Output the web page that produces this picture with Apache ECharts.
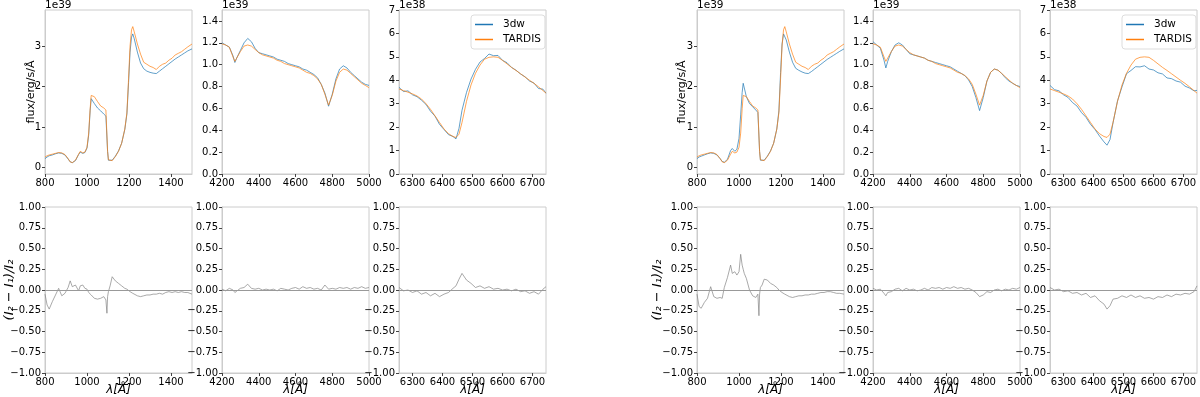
<!DOCTYPE html>
<html>
<head>
<meta charset="UTF-8">
<title>3dw vs TARDIS spectra</title>
<script type="text/javascript" src="https://cdn.jsdelivr.net/npm/echarts@6/dist/echarts.min.js"></script>
<style>
  html, body { margin: 0; padding: 0; background: #fff; }
</style>
</head>
<body>
	<div id="box" style="width: 1200px; height: 397px;"></div>

	<script type="text/javascript">
		// wavelength grids (Angstrom)
		var waveA = [800, 810, 820, 835, 850, 865, 880, 895, 910, 920,
			930, 945, 960, 968, 980, 990, 1000, 1008, 1015, 1020,
			1025, 1035, 1050, 1065, 1080, 1090, 1095, 1098, 1102, 1110,
			1120, 1135, 1150, 1165, 1180, 1190, 1198, 1205, 1212, 1218,
			1225, 1240, 1255, 1270, 1285, 1300, 1315, 1330, 1345, 1360,
			1375, 1390, 1405, 1420, 1435, 1450, 1465, 1480, 1500];
		var waveB = [4200, 4220, 4240, 4260, 4270, 4280, 4300, 4320, 4340, 4360,
			4380, 4400, 4420, 4440, 4460, 4480, 4500, 4520, 4540, 4560,
			4580, 4600, 4620, 4640, 4660, 4680, 4700, 4720, 4740, 4760,
			4780, 4800, 4820, 4840, 4860, 4880, 4900, 4920, 4940, 4960,
			4980, 5000];
		var waveC = [6255, 6270, 6285, 6300, 6315, 6330, 6345, 6360, 6375, 6390,
			6405, 6420, 6435, 6445, 6455, 6465, 6480, 6495, 6510, 6525,
			6540, 6555, 6570, 6585, 6600, 6615, 6630, 6645, 6660, 6675,
			6690, 6705, 6720, 6735, 6745];

		// TARDIS flux (same model in both groups); A,B in 1e39, C in 1e38
		var tardisA = [0.26, 0.29, 0.31, 0.33, 0.35, 0.37, 0.36, 0.32, 0.22, 0.14,
			0.12, 0.18, 0.33, 0.40, 0.36, 0.38, 0.50, 0.85, 1.45, 1.78,
			1.80, 1.75, 1.63, 1.52, 1.47, 1.42, 1.44, 0.40, 0.19, 0.16,
			0.17, 0.27, 0.40, 0.60, 0.95, 1.35, 2.20, 3.00, 3.40, 3.48,
			3.35, 3.05, 2.80, 2.60, 2.55, 2.50, 2.47, 2.42, 2.50, 2.55,
			2.58, 2.65, 2.70, 2.78, 2.82, 2.86, 2.92, 2.98, 3.05];
		var tardisB = [1.19, 1.18, 1.16, 1.07, 1.03, 1.06, 1.12, 1.17, 1.18, 1.17,
			1.14, 1.11, 1.09, 1.08, 1.07, 1.06, 1.04, 1.03, 1.01, 1.00,
			0.99, 0.98, 0.97, 0.95, 0.93, 0.92, 0.90, 0.87, 0.82, 0.73,
			0.63, 0.72, 0.85, 0.93, 0.96, 0.95, 0.92, 0.89, 0.86, 0.83,
			0.81, 0.79];
		var tardisC = [3.63, 3.56, 3.49, 3.42, 3.33, 3.20, 3.00, 2.76, 2.48, 2.20,
			1.92, 1.72, 1.60, 1.56, 1.70, 2.20, 3.10, 3.80, 4.30, 4.65,
			4.90, 4.98, 5.00, 4.98, 4.85, 4.70, 4.55, 4.42, 4.28, 4.14,
			4.00, 3.87, 3.72, 3.56, 3.45];

		// 3dw flux, left group (1) and right group (2)
		var blueA1 = [0.22, 0.26, 0.29, 0.31, 0.34, 0.36, 0.35, 0.31, 0.21, 0.14,
			0.12, 0.17, 0.32, 0.38, 0.35, 0.37, 0.48, 0.80, 1.40, 1.70,
			1.71, 1.58, 1.47, 1.40, 1.32, 1.27, 1.26, 0.40, 0.18, 0.16,
			0.18, 0.28, 0.41, 0.60, 0.94, 1.32, 2.10, 2.85, 3.22, 3.30,
			3.18, 2.85, 2.58, 2.44, 2.38, 2.35, 2.33, 2.32, 2.38, 2.44,
			2.50, 2.56, 2.62, 2.68, 2.73, 2.78, 2.83, 2.88, 2.93];
		var blueA2 = [0.22, 0.26, 0.28, 0.31, 0.34, 0.36, 0.35, 0.31, 0.22, 0.15,
			0.13, 0.20, 0.42, 0.47, 0.40, 0.45, 0.72, 1.30, 1.85, 2.08,
			2.10, 1.75, 1.58, 1.50, 1.42, 1.36, 1.40, 0.40, 0.18, 0.16,
			0.18, 0.28, 0.41, 0.60, 0.95, 1.40, 2.35, 3.05, 3.30, 3.32,
			3.15, 2.85, 2.60, 2.45, 2.40, 2.36, 2.33, 2.32, 2.37, 2.43,
			2.49, 2.55, 2.61, 2.67, 2.72, 2.77, 2.82, 2.87, 2.93];
		var blueB1 = [1.20, 1.18, 1.16, 1.08, 1.02, 1.06, 1.13, 1.20, 1.24, 1.21,
			1.15, 1.11, 1.10, 1.09, 1.08, 1.07, 1.05, 1.04, 1.03, 1.01,
			1.00, 0.99, 0.98, 0.96, 0.95, 0.93, 0.91, 0.88, 0.82, 0.74,
			0.62, 0.73, 0.87, 0.96, 0.99, 0.97, 0.93, 0.90, 0.87, 0.84,
			0.82, 0.81];
		var blueB2 = [1.21, 1.18, 1.15, 1.04, 0.97, 1.03, 1.12, 1.18, 1.20, 1.18,
			1.14, 1.10, 1.09, 1.08, 1.07, 1.06, 1.04, 1.03, 1.02, 1.01,
			1.00, 0.99, 0.98, 0.96, 0.94, 0.92, 0.90, 0.86, 0.80, 0.70,
			0.58, 0.70, 0.85, 0.93, 0.96, 0.95, 0.92, 0.88, 0.85, 0.83,
			0.81, 0.80];
		var blueC1 = [3.70, 3.52, 3.55, 3.38, 3.30, 3.15, 2.97, 2.68, 2.47, 2.12,
			1.90, 1.68, 1.60, 1.50, 1.95, 2.72, 3.48, 4.05, 4.47, 4.78,
			4.93, 5.12, 5.05, 5.06, 4.85, 4.75, 4.55, 4.43, 4.27, 4.15,
			3.97, 3.88, 3.65, 3.62, 3.45];
		var blueC2 = [3.78, 3.60, 3.55, 3.38, 3.27, 3.05, 2.90, 2.62, 2.42, 2.12,
			1.90, 1.62, 1.37, 1.23, 1.47, 2.18, 3.12, 3.72, 4.28, 4.42,
			4.58, 4.57, 4.62, 4.48, 4.44, 4.32, 4.27, 4.10, 4.07, 3.97,
			3.92, 3.75, 3.67, 3.55, 3.57];

		// relative residuals (I2 - I1)/I2
		var resA1 = [-0.05, -0.18, -0.23, -0.14, -0.06, 0.02, -0.07, -0.04, 0.03, 0.11,
			0.04, 0.06, -0.01, 0.05, 0.06, 0.02, 0.01, -0.03, -0.05, -0.06,
			-0.08, -0.10, -0.11, -0.10, -0.08, -0.12, -0.28, -0.08, -0.02, 0.05,
			0.16, 0.11, 0.08, 0.05, 0.02, 0.01, -0.01, -0.02, -0.03, -0.04,
			-0.05, -0.07, -0.08, -0.07, -0.06, -0.06, -0.05, -0.05, -0.04, -0.05,
			-0.03, -0.02, -0.03, -0.02, -0.03, -0.02, -0.03, -0.03, -0.05];
		var resA2 = [-0.05, -0.20, -0.22, -0.15, -0.10, 0.04, -0.08, -0.10, -0.09, -0.10,
			0.03, 0.15, 0.30, 0.20, 0.22, 0.18, 0.22, 0.43, 0.30, 0.25,
			0.20, 0.14, 0.00, -0.07, -0.09, -0.05, -0.31, -0.05, 0.03, 0.06,
			0.13, 0.12, 0.08, 0.06, 0.03, 0.00, -0.02, -0.03, -0.04, -0.05,
			-0.06, -0.08, -0.09, -0.08, -0.07, -0.07, -0.06, -0.06, -0.05, -0.05,
			-0.04, -0.03, -0.03, -0.02, -0.02, -0.03, -0.04, -0.04, -0.05];
		var resB1 = [0.01, -0.01, 0.02, 0.00, -0.03, -0.01, 0.02, 0.03, 0.07, 0.02,
			0.01, 0.02, 0.00, 0.01, 0.00, 0.01, -0.01, 0.02, 0.01, 0.00,
			0.02, 0.03, 0.01, 0.04, 0.02, 0.03, 0.01, 0.02, 0.00, 0.06,
			0.01, 0.02, 0.01, 0.03, 0.02, 0.03, 0.01, 0.03, 0.02, 0.04,
			0.02, 0.03];
		var resB2 = [0.02, 0.00, 0.01, -0.04, -0.07, -0.03, -0.02, 0.01, 0.02, -0.01,
			0.02, 0.00, 0.01, -0.01, 0.00, 0.02, 0.00, 0.03, 0.02, 0.03,
			0.01, 0.03, 0.02, 0.04, 0.02, 0.03, 0.01, 0.02, 0.00, -0.03,
			-0.08, -0.06, -0.02, -0.03, 0.00, 0.01, -0.01, 0.01, 0.00, 0.02,
			0.01, 0.03];
		var resC1 = [0.03, -0.01, 0.00, -0.03, -0.01, -0.05, -0.03, -0.07, -0.04, -0.08,
			-0.05, -0.03, 0.02, 0.05, 0.13, 0.20, 0.12, 0.08, 0.03, 0.05,
			0.02, 0.04, 0.01, 0.02, 0.00, 0.01, -0.01, 0.01, -0.02, -0.01,
			-0.04, -0.02, -0.05, 0.01, 0.04];
		var resC2 = [0.03, 0.00, 0.01, -0.02, -0.01, -0.04, -0.03, -0.06, -0.04, -0.09,
			-0.07, -0.13, -0.17, -0.23, -0.19, -0.11, -0.10, -0.07, -0.09, -0.06,
			-0.09, -0.07, -0.10, -0.09, -0.11, -0.08, -0.09, -0.06, -0.08, -0.05,
			-0.06, -0.04, -0.05, -0.02, 0.05];

		// tick values
		var ticksA = [800, 1000, 1200, 1400];
		var ticksB = [4200, 4400, 4600, 4800, 5000];
		var ticksC = [6300, 6400, 6500, 6600, 6700];
		var fluxTicksA = [0, 1, 2, 3];
		var fluxTicksB = [0, 0.2, 0.4, 0.6, 0.8, 1.0, 1.2, 1.4];
		var fluxTicksC = [0, 1, 2, 3, 4, 5, 6, 7];
		var resTicks = [-1, -0.75, -0.5, -0.25, 0, 0.25, 0.5, 0.75, 1];

		var bands = [
			{ wave: waveA, tardis: tardisA, flux: [blueA1, blueA2], res: [resA1, resA2],
				xr: [800, 1500], xt: ticksA, yr: [-0.16, 3.89], yt: fluxTicksA, dec: 0, off: '1e39' },
			{ wave: waveB, tardis: tardisB, flux: [blueB1, blueB2], res: [resB1, resB2],
				xr: [4200, 5000], xt: ticksB, yr: [0, 1.5], yt: fluxTicksB, dec: 1, off: '1e39' },
			{ wave: waveC, tardis: tardisC, flux: [blueC1, blueC2], res: [resC1, resC2],
				xr: [6255, 6745], xt: ticksC, yr: [0, 7], yt: fluxTicksC, dec: 0, off: '1e38' }
		];

		var cols = [45, 222, 399, 697, 873, 1050];
		var colW = 147;
		var rowTop = [10, 207];
		var rowH = [164, 166];
		var FONT = 'DejaVu Sans';
		var txt = { fontSize: 10, color: '#000', fontFamily: FONT };

		function pairs(xs, ys) {
			return xs.map(function (x, i) { return [x, ys[i]]; });
		}
		function minus(s) { return s.replace('-', '\u2212'); }

		var grids = [], xAxes = [], yAxes = [], series = [], graphics = [];

		for (var g = 0; g < 2; g++) {
			for (var b = 0; b < 3; b++) {
				var band = bands[b];
				var left = cols[g * 3 + b];
				for (var r = 0; r < 2; r++) {
					var idx = grids.length;
					grids.push({ left: left, top: rowTop[r], width: colW, height: rowH[r],
						show: true, borderColor: '#cccccc', borderWidth: 1, backgroundColor: '#fff',
						containLabel: false, outerBoundsMode: 'none' });
					xAxes.push({
						type: 'value', gridIndex: idx, min: band.xr[0], max: band.xr[1],
						axisLine: { show: true, onZero: false, lineStyle: { color: '#cccccc' } },
						axisTick: { show: true, length: 3, lineStyle: { color: '#444' }, customValues: band.xt },
						axisLabel: Object.assign({ customValues: band.xt, margin: 4, hideOverlap: false,
							formatter: function (v) { return String(v); } }, txt),
						splitLine: { show: false },
						name: r === 1 ? '\u03bb[\u00c5]' : '',
						nameLocation: 'middle', nameGap: 11, nameMoveOverlap: false,
						nameTextStyle: Object.assign({}, txt, { fontSize: 12, fontStyle: 'italic' })
					});
					var yname = '', ygap = 8, yfs = 11;
					if (b === 0) {
						if (r === 0) { yname = 'flux/erg/s/\u00c5'; ygap = g === 0 ? 8 : 9; }
						else { yname = '(I\u2082 \u2212 I\u2081)/I\u2082'; ygap = g === 0 ? 29 : 33; yfs = 13; }
					}
					var dec = band.dec;
					yAxes.push({
						type: 'value', gridIndex: idx,
						min: r === 0 ? band.yr[0] : -1, max: r === 0 ? band.yr[1] : 1,
						axisLine: { show: true, onZero: false, lineStyle: { color: '#cccccc' } },
						axisTick: { show: true, length: 3, lineStyle: { color: '#444' }, customValues: r === 0 ? band.yt : resTicks },
						axisLabel: Object.assign({
							customValues: r === 0 ? band.yt : resTicks, margin: 4, hideOverlap: false,
							formatter: r === 0
								? (function (d) { return function (v) { return v.toFixed(d); }; })(dec)
								: function (v) { return minus(v.toFixed(2)); }
						}, txt),
						splitLine: { show: false },
						name: yname, nameLocation: 'middle', nameGap: ygap, nameRotate: 90,
						nameMoveOverlap: false,
						nameTextStyle: Object.assign({}, txt, { fontSize: yfs, fontStyle: r === 1 ? 'italic' : 'normal' })
					});
					if (r === 0) {
						series.push({
							type: 'line', name: '3dw', xAxisIndex: idx, yAxisIndex: idx,
							data: pairs(band.wave, band.flux[g]), symbol: 'none', animation: false,
							itemStyle: { color: '#1f77b4' },
							lineStyle: { color: '#1f77b4', width: 1, opacity: 0.7 }
						});
						series.push({
							type: 'line', name: 'TARDIS', xAxisIndex: idx, yAxisIndex: idx,
							data: pairs(band.wave, band.tardis), symbol: 'none', animation: false,
							itemStyle: { color: '#ff7f0e' },
							lineStyle: { color: '#ff7f0e', width: 1, opacity: 0.7 }
						});
						graphics.push({ type: 'text', left: left, top: 0,
							style: { text: band.off, font: '10.5px "DejaVu Sans"', fill: '#000' } });
					} else {
						series.push({
							type: 'line', name: 'residual', xAxisIndex: idx, yAxisIndex: idx,
							data: pairs(band.wave, band.res[g]), symbol: 'none', animation: false,
							lineStyle: { color: '#808080', width: 0.8, opacity: 0.85 },
							markLine: { silent: true, symbol: 'none', animation: false,
								label: { show: false },
								lineStyle: { color: '#999999', width: 1, type: 'solid' },
								data: [{ yAxis: 0 }] }
						});
					}
				}
			}
		}

		function legendAt(left) {
			return {
				data: ['3dw', 'TARDIS'], orient: 'vertical', left: left, top: 15,
				icon: 'rect', itemWidth: 18, itemHeight: 1.5, itemGap: 4,
				selectedMode: false, textStyle: Object.assign({ padding: [0, 0, 0, 5] }, txt, { fontSize: 10.5 }),
				borderColor: '#dddddd', borderWidth: 1, borderRadius: 3,
				padding: [4, 4, 4, 4], backgroundColor: '#fff'
			};
		}

		var myChart = echarts.init(document.getElementById('box'), null, { renderer: 'canvas' });
		myChart.setOption({
			animation: false,
			textStyle: { fontFamily: FONT },
			grid: grids,
			xAxis: xAxes,
			yAxis: yAxes,
			legend: [legendAt(471), legendAt(1122)],
			graphic: graphics,
			series: series
		});
	</script>
</body>
</html>
